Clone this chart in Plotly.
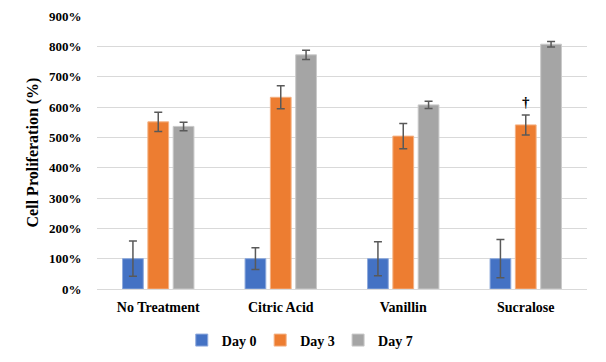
import plotly.graph_objects as go

categories = ["No Treatment", "Citric Acid", "Vanillin", "Sucralose"]
day0 = [100, 100, 100, 100]
day0_err = [58, 36, 56, 63]
day3 = [551, 632, 504, 541]
day3_err = [32, 38, 42, 33]
day7 = [536, 772, 607, 807]
day7_err = [14, 15, 12, 9]
series_names = ["Day 0", "Day 3", "Day 7"]
colors = ["#4472C4", "#ED7D31", "#A5A5A5"]
border_colors = ["#8FAADC", "#F4B183", "#C9C9C9"]
y_ticks = [0, 100, 200, 300, 400, 500, 600, 700, 800, 900]
y_tick_labels = ["0%", "100%", "200%", "300%", "400%", "500%", "600%", "700%", "800%", "900%"]

font_family = "Liberation Serif, Times New Roman, serif"
legend_ids = ["legend", "legend2", "legend3"]
legend_x = [0.173, 0.333, 0.492]

fig = go.Figure()
for name, vals, errs, c, bc, lid in zip(series_names, [day0, day3, day7],
                                        [day0_err, day3_err, day7_err],
                                        colors, border_colors, legend_ids):
    fig.add_trace(go.Bar(
        name=name, x=categories, y=vals, legend=lid,
        marker=dict(color=c, line=dict(color=bc, width=1)),
        error_y=dict(type="data", array=errs, visible=True,
                     color="#595959", thickness=1.5, width=4),
    ))

fig.add_annotation(x="Sucralose", y=617, text="†", showarrow=False,
                   font=dict(family=font_family, size=15, color="black", weight="bold"))

legend_font = dict(family=font_family, size=14, color="black", weight="bold")
legend_common = dict(orientation="h", xanchor="left", y=-0.13, yanchor="top",
                     font=legend_font, itemwidth=30, bgcolor="rgba(0,0,0,0)")

# page body has an 8px margin, so the figure is shrunk and margins shifted accordingly
fig.update_layout(
    width=598, height=354,
    margin=dict(l=89, r=19, t=8, b=73, autoexpand=False),
    plot_bgcolor="white", paper_bgcolor="white",
    barmode="group", bargap=0.38, bargroupgap=0.18,
    font=dict(family=font_family, size=13, color="black"),
    showlegend=True,
    legend=dict(x=legend_x[0], **legend_common),
    legend2=dict(x=legend_x[1], **legend_common),
    legend3=dict(x=legend_x[2], **legend_common),
    xaxis=dict(showgrid=False, showline=False, ticks="outside", ticklen=5,
               tickcolor="rgba(0,0,0,0)",
               tickfont=dict(family=font_family, size=14, color="black", weight="bold")),
    yaxis=dict(range=[0, 900], tickvals=y_ticks, ticktext=y_tick_labels,
               showgrid=True, gridcolor="#D9D9D9", gridwidth=1,
               zeroline=True, zerolinecolor="#D9D9D9", zerolinewidth=1,
               ticks="outside", ticklen=12, tickcolor="rgba(0,0,0,0)",
               tickfont=dict(family=font_family, size=13, color="black", weight="bold"),
               title=dict(text="Cell Proliferation (%)", standoff=6,
                          font=dict(family=font_family, size=16, color="black", weight="bold"))),
)

fig.write_html("out.html")
